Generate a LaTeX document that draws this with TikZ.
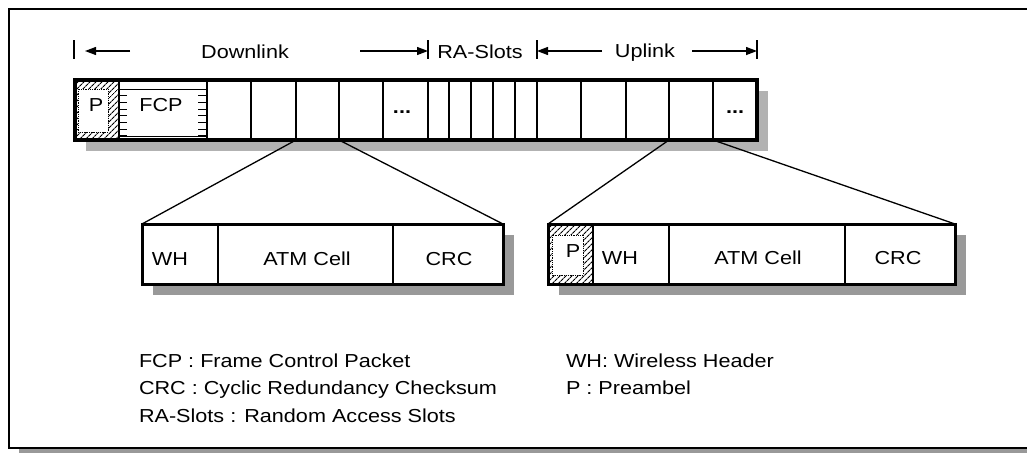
\documentclass[tikz,border=0pt]{standalone}
\usepackage{fontspec}
\setmainfont[FakeStretch=1.15]{Liberation Sans}
\usetikzlibrary{arrows.meta,patterns.meta}
\begin{document}
\begin{tikzpicture}[x=1pt,y=-1pt,
  txt/.style={font=\fontsize{18.8}{22}\selectfont, inner sep=0pt, outer sep=0pt},
  cell/.style={draw, line width=1.8pt, minimum height=60pt, inner sep=0pt, outer sep=0pt},
  dcell/.style={draw, line width=1.3pt, minimum height=60pt, inner sep=0pt, outer sep=0pt},
  outerbox/.style={draw, line width=3.5pt, minimum height=60pt, inner sep=0pt, outer sep=0pt},
  doutbox/.style={draw, line width=3pt, minimum height=60pt, inner sep=0pt, outer sep=0pt},
  conn/.style={line width=1.3pt},
  arr/.style={line width=1.3pt, -{Triangle[length=11pt,width=8pt]}},
  tickline/.style={line width=1.6pt},
  hatch/.style={pattern={Lines[angle=45,distance=4pt,line width=1.1pt]}},
  barshadow/.style={fill=black!30},
  boxshadow/.style={fill=black!40},
]
\useasboundingbox (0,0) rectangle (1027,453);
\clip (0,0) rectangle (1027,453);
% outer frame
\fill[black!40] (19,448) rectangle (1040,453);
\draw[line width=2pt] (9,9) rectangle (1040,447.5);

% top labels and arrows
\node[txt, anchor=base] (lDown) at (245,58) {Downlink};
\node[txt, anchor=base] (lRA) at (480,58.5) {RA-Slots};
\node[txt, anchor=base] (lUp) at (645,57.5) {Uplink};
\foreach \x/\n in {74/1,428/2,537/3,757/4}{
  \coordinate (k\n t) at (\x,40);
  \coordinate (k\n b) at (\x,59);
  \coordinate (k\n m) at (\x,51);
  \draw[tickline] (k\n t) -- (k\n b);
}
\coordinate (a1s) at (130,51);
\coordinate (a1e) at (85,51);
\coordinate (a2s) at (360,51);
\coordinate (a3s) at (602,51);
\coordinate (a4s) at (692,51);
\draw[arr] (a1s) -- (a1e);
\draw[arr] (a2s) -- (k2m);
\draw[arr] (a3s) -- (k3m);
\draw[arr] (a4s) -- (k4m);

% main frame bar
\fill[barshadow] (86,91) rectangle (768,151);
\fill[white] (75,80) rectangle (757,140);
% P cell hatch
\fill[hatch] (75,80) rectangle (119,140);
\fill[white] (78,89) rectangle (108,132);
\draw[densely dotted, line width=0.8pt] (78,89) rectangle (108,132);
% FCP decorations
\draw[line width=1pt] (119,89) -- (207,89);
\draw[line width=1pt] (119,136.5) -- (207,136.5);
\foreach \k in {0,...,6}{
  \draw[line width=0.9pt] (119,{95.7+6.67*\k}) -- (127,{95.7+6.67*\k});
  \draw[line width=0.9pt] (198,{95.7+6.67*\k}) -- (207,{95.7+6.67*\k});
}
\foreach \a/\b/\n in {75/119/1,119/207/2,207/251/3,251/296/4,296/339/5,339/383/6,383/428/7,428/449/8,449/471/9,471/493/10,493/515/11,515/537/12,537/581/13,581/626/14,626/669/15,669/713/16,713/757/17}{
  \pgfmathsetmacro\w{\b-\a}
  \node[cell, minimum width=\w pt] (c\n) at ({(\a+\b)/2},110) {};
}
\node[outerbox, minimum width=682pt] (bar) at (416,110) {};
\node[txt, anchor=base] (tP) at (96,111) {P};
\node[txt, anchor=base] (tFCP) at (161,111) {FCP};
\node[txt, anchor=base] (tdotsA) at (402,113) {\textbf{...}};
\node[txt, anchor=base] (tdotsB) at (735,113) {\textbf{...}};

% left detail
\fill[boxshadow] (153,235) rectangle (514,295);
\fill[white] (142,224) rectangle (503,284);
\foreach \a/\b/\n in {142/218/1,218/393/2,393/503/3}{
  \pgfmathsetmacro\w{\b-\a}
  \node[dcell, minimum width=\w pt] (dL\n) at ({(\a+\b)/2},254) {};
}
\node[doutbox, minimum width=361pt] (dL) at (322.5,254) {};
\node[txt, anchor=base] (tLWH) at (170,265) {WH};
\node[txt, anchor=base] (tLATM) at (307,265) {ATM Cell};
\node[txt, anchor=base] (tLCRC) at (449,265) {CRC};

% right detail
\fill[boxshadow] (559,235) rectangle (966,295);
\fill[white] (548,224) rectangle (955,284);
\fill[hatch] (548,224) rectangle (593,284);
\fill[white] (552,235) rectangle (583,275);
\draw[densely dotted, line width=0.8pt] (552,235) rectangle (583,275);
\foreach \a/\b/\n in {548/593/1,593/669/2,669/845/3,845/955/4}{
  \pgfmathsetmacro\w{\b-\a}
  \node[dcell, minimum width=\w pt] (dR\n) at ({(\a+\b)/2},254) {};
}
\node[doutbox, minimum width=407pt] (dR) at (751.5,254) {};
\node[txt, anchor=base] (tRP) at (573,257) {P};
\node[txt, anchor=base] (tRWH) at (620,264.5) {WH};
\node[txt, anchor=base] (tRATM) at (758,264.5) {ATM Cell};
\node[txt, anchor=base] (tRCRC) at (898,264.5) {CRC};

% connectors
\draw[conn] (c5.south west) -- (dL.north west);
\draw[conn] (c5.south east) -- (dL.north east);
\draw[conn] (c16.south west) -- (dR.north west);
\draw[conn] (c16.south east) -- (dR.north east);

% legend
\node[txt, anchor=base west] (l1) at (139,367) {FCP : Frame Control Packet};
\node[txt, anchor=base west] (l2) at (139,394) {CRC : Cyclic Redundancy Checksum};
\node[txt, anchor=base west] (l3) at (139,422) {RA-Slots : Random Access Slots};
\node[txt, anchor=base west] (l4) at (566,367) {WH: Wireless Header};
\node[txt, anchor=base west] (l5) at (566,394) {P : Preambel};
\end{tikzpicture}
\end{document}
